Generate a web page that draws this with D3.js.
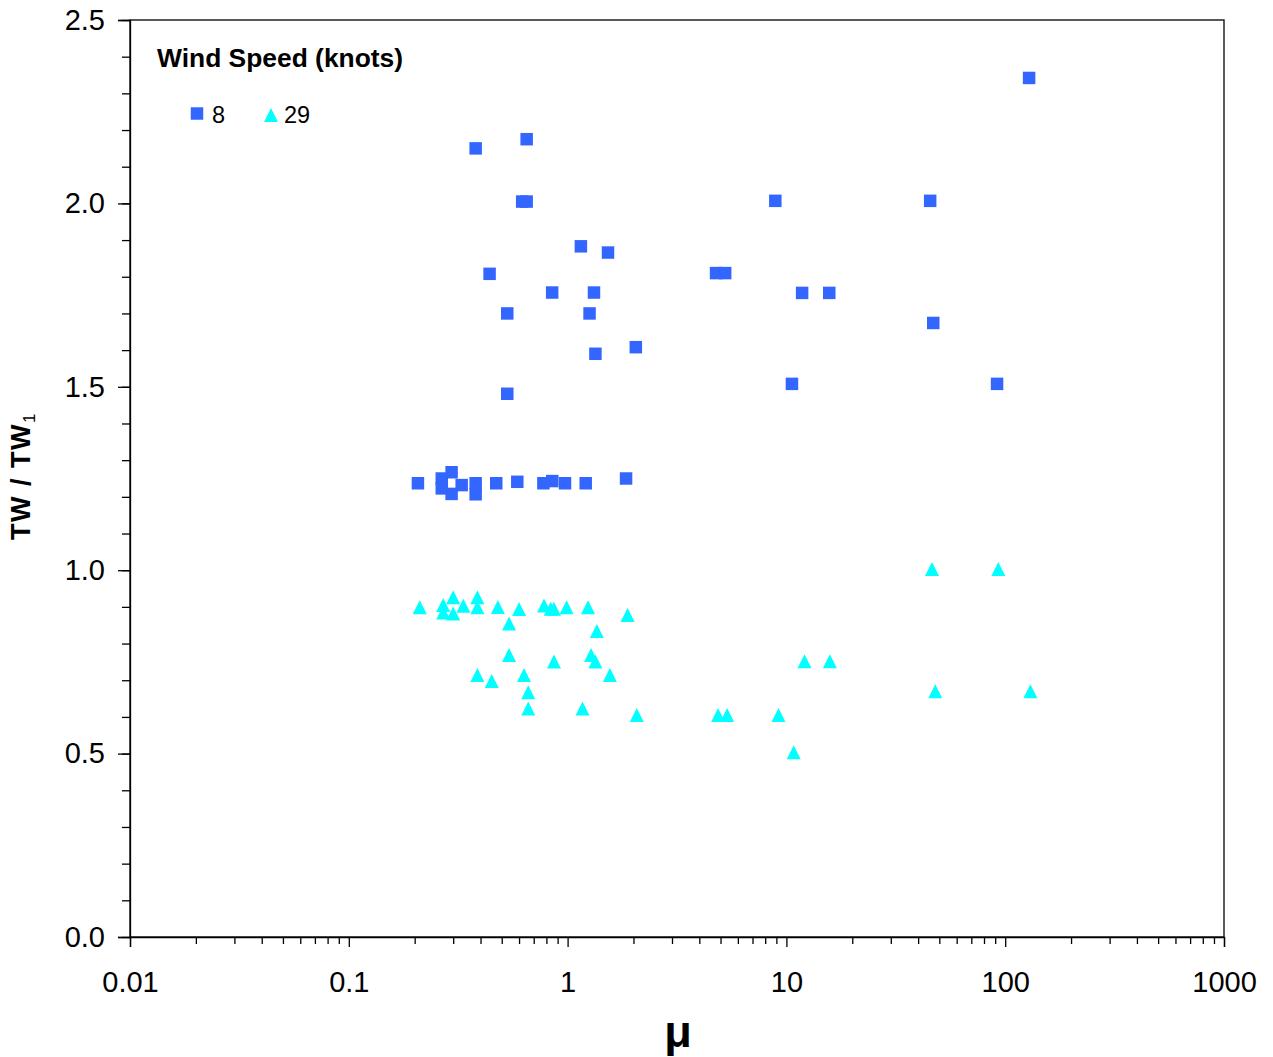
<!DOCTYPE html>
<html><head><meta charset="utf-8">
<script src="https://cdn.jsdelivr.net/npm/d3@7"></script>
<style>body{margin:0;background:#fff}</style>
</head><body>
<svg id="c" width="1273" height="1057"></svg>
<script>
// Series: wind speed 8 knots (squares)
const mu8 = [0.38,0.65,0.62,0.65,1.15,1.53,0.44,0.85,1.32,0.53,1.26,1.34,2.05,0.53,
  8.9,45.4,128.6,4.77,5.25,11.8,15.7,46.9,10.6,91.8,
  0.207,0.266,0.266,0.295,0.295,0.328,0.38,0.38,0.472,0.589,0.775,0.851,0.973,1.21,1.85];
const tw8 = [2.15,2.175,2.005,2.005,1.883,1.866,1.808,1.757,1.757,1.70,1.70,1.59,1.608,1.481,
  2.007,2.007,2.342,1.81,1.81,1.756,1.756,1.674,1.508,1.508,
  1.237,1.25,1.223,1.267,1.208,1.232,1.237,1.207,1.237,1.241,1.237,1.243,1.237,1.237,1.25];
// Series: wind speed 29 knots (triangles)
const mu29 = [0.211,0.27,0.27,0.3,0.3,0.334,0.387,0.387,0.48,0.6,0.54,0.78,0.837,0.866,0.99,1.24,1.88,1.36,
  0.54,0.866,1.28,1.34,1.56,0.387,0.45,0.632,0.661,0.661,1.17,2.07,
  4.87,5.36,9.2,10.8,12.1,15.8,46.3,93.0,47.9,130.3];
const tw29 = [0.899,0.905,0.885,0.926,0.882,0.903,0.926,0.899,0.90,0.894,0.855,0.904,0.895,0.895,0.899,0.899,0.878,0.834,
  0.769,0.751,0.769,0.751,0.714,0.714,0.698,0.714,0.667,0.623,0.623,0.605,
  0.605,0.605,0.605,0.504,0.752,0.752,1.003,1.003,0.67,0.67];
const xTicks = [0.01,0.1,1,10,100,1000];
const xTickLabels = ["0.01","0.1","1","10","100","1000"];
const yTicks = [0,0.5,1.0,1.5,2.0,2.5];
const legendTitle = "Wind Speed (knots)";
const seriesNames = ["8","29"];

const svg = d3.select("#c");
const L=130,R=1224,T=20,B=937;
const x = d3.scaleLog().domain([0.01,1000]).range([L,R]);
const y = d3.scaleLinear().domain([0,2.5]).range([B,T]);
const font = "'Liberation Sans', Arial, sans-serif";

// frame
svg.append("rect").attr("x",L).attr("y",T).attr("width",R-L).attr("height",B-T)
  .attr("fill","none").attr("stroke","#000").attr("stroke-width",1.3);

// x axis
const minorX=[];
for(let e=-2;e<3;e++) for(let k=2;k<10;k++) minorX.push(k*Math.pow(10,e));
const gx = svg.append("g").attr("transform",`translate(0,${B})`);
gx.call(d3.axisBottom(x).tickValues(minorX).tickSize(7).tickFormat(""));
gx.call(g=>g.select(".domain").remove());
const gx2 = svg.append("g").attr("transform",`translate(0,${B})`);
gx2.call(d3.axisBottom(x).tickValues(xTicks).tickSize(10).tickPadding(24)
  .tickFormat((d,i)=>xTickLabels[i]));
gx2.selectAll("text").attr("font-family",font).attr("font-size",29).attr("fill","#000");

// y axis
const minorY=d3.range(0,2.501,0.1).map(v=>+v.toFixed(1));
const gy = svg.append("g").attr("transform",`translate(${L},0)`);
gy.call(d3.axisLeft(y).tickValues(minorY).tickSize(8).tickFormat(""));
gy.call(g=>g.select(".domain").remove());
const gy2 = svg.append("g").attr("transform",`translate(${L},0)`);
gy2.call(d3.axisLeft(y).tickValues(yTicks).tickSize(12).tickPadding(13).tickFormat(d3.format(".1f")));
gy2.selectAll("text").attr("font-family",font).attr("font-size",29).attr("fill","#000");
svg.selectAll(".domain").attr("stroke","#000").attr("stroke-width",1.3);
svg.selectAll(".tick line").attr("stroke","#000").attr("stroke-width",1.3);

// titles
svg.append("text").attr("x",678).attr("y",1047).attr("text-anchor","middle")
  .attr("font-family",font).attr("font-weight","bold").attr("font-size",45).text("μ");
const yt = svg.append("text").attr("transform",`translate(30,${476}) rotate(-90)`)
  .attr("text-anchor","middle").attr("font-family",font).attr("font-weight","bold")
  .attr("font-size",27).attr("letter-spacing",1.5);
yt.append("tspan").text("TW / TW");
yt.append("tspan").attr("font-size",17).attr("font-weight","normal").attr("dy",5).text("1");

// custom triangle symbol (bbox-centred)
const triType = {draw(ctx,size){const h=Math.sqrt(size)/2;ctx.moveTo(0,-h);ctx.lineTo(h,h);ctx.lineTo(-h,h);ctx.closePath();}};

// points
const d8 = mu8.map((m,i)=>({m,v:tw8[i]}));
const d29 = mu29.map((m,i)=>({m,v:tw29[i]}));
const sq = d3.symbol().type(d3.symbolSquare).size(156);
const tri = d3.symbol().type(triType).size(196);
svg.append("g").selectAll("path").data(d29).join("path")
  .attr("d",tri).attr("transform",d=>`translate(${x(d.m)},${y(d.v)})`).attr("fill","#00FFFF");
svg.append("g").selectAll("path").data(d8).join("path")
  .attr("d",sq).attr("transform",d=>`translate(${x(d.m)},${y(d.v)})`).attr("fill","#3366FF");

// legend
svg.append("text").attr("x",157).attr("y",67).attr("font-family",font).attr("font-weight","bold")
  .attr("font-size",26.4).text(legendTitle);
svg.append("path").attr("d",sq).attr("transform","translate(197,113.5)").attr("fill","#3366FF");
svg.append("text").attr("x",212).attr("y",123).attr("font-family",font).attr("font-size",23.5).text(seriesNames[0]);
svg.append("path").attr("d",tri).attr("transform","translate(271,115)").attr("fill","#00FFFF");
svg.append("text").attr("x",284).attr("y",123).attr("font-family",font).attr("font-size",23.5).text(seriesNames[1]);
</script>
</body></html>
